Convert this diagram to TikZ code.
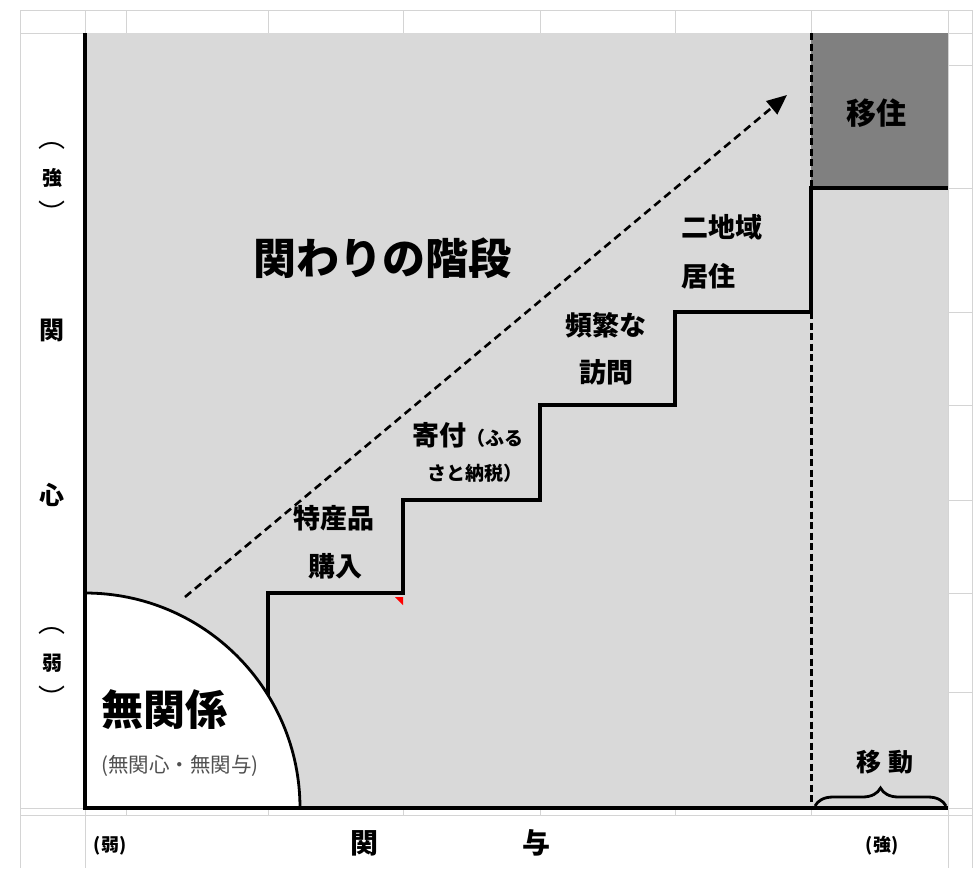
\documentclass[tikz,border=0pt]{standalone}
\usepackage{fontspec}
\setmainfont{Noto Sans CJK JP}
\usetikzlibrary{arrows.meta,decorations.pathreplacing}
\definecolor{gridgray}{HTML}{D4D4D4}
\definecolor{lightfill}{HTML}{D9D9D9}
\definecolor{darkfill}{HTML}{808080}
\definecolor{subgray}{HTML}{505050}
\tikzset{
  gridline/.style={draw=gridgray, line width=1pt},
  axisline/.style={draw=black, line width=4pt},
  stairline/.style={draw=black, line width=3.8pt, line join=miter},
  dashline/.style={draw=black, line width=3pt, dash pattern=on 7pt off 3.5pt},
  lbl/.style={inner sep=0pt, font=\bfseries\fontsize{27}{27}\selectfont},
  axlbl/.style={inner sep=0pt, font=\bfseries\fontsize{25}{25}\selectfont},
  smlbl/.style={inner sep=0pt, font=\bfseries\fontsize{18}{18}\selectfont},
  sidelbl/.style={inner sep=0pt, font=\bfseries\fontsize{20}{20}\selectfont},
  parlbl/.style={inner sep=0pt, font=\fontsize{27}{27}\selectfont},
}
\begin{document}
\begin{tikzpicture}[x=1pt,y=-1pt]
\useasboundingbox (0,0) rectangle (980,868);
\fill[white] (0,0) rectangle (980,868);
% spreadsheet grid
\draw[gridline] (20,10) -- (972,10);
\draw[gridline] (20,33) -- (972,33);
\draw[gridline] (20,808) -- (972,808);
\draw[gridline] (20,815) -- (972,815);
\draw[gridline] (20,10) -- (20,868);
\draw[gridline] (85,10) -- (85,868);
\draw[gridline] (948,10) -- (948,868);
\draw[gridline] (972,10) -- (972,868);
\foreach \gx in {126,268,403,540,675,811} {
  \draw[gridline] (\gx,10) -- (\gx,33);
  \draw[gridline] (\gx,808) -- (\gx,815);
}
\foreach \gy in {65,188,312,405,500,593,692} {
  \draw[gridline] (948,\gy) -- (972,\gy);
}
% fills
\fill[lightfill] (85,33) rectangle (948,808);
\fill[darkfill] (811,33) rectangle (948,188);
% staircase
\coordinate (s0) at (268,700);
\coordinate (s1) at (268,593);
\coordinate (s2) at (403,593);
\coordinate (s3) at (403,500);
\coordinate (s4) at (540,500);
\coordinate (s5) at (540,405);
\coordinate (s6) at (675,405);
\coordinate (s7) at (675,312);
\coordinate (s8) at (811,312);
\coordinate (s9) at (811,188);
\coordinate (s10) at (948,188);
\draw[stairline] (s0) -- (s1) -- (s2) -- (s3) -- (s4) -- (s5) -- (s6) -- (s7) -- (s8) -- (s9) -- (s10);
% red marker
\fill[red] (395,597) -- (403,597) -- (403,605) -- cycle;
% dashed vertical
\coordinate (d0) at (811,33);
\coordinate (d1) at (811,808);
\draw[dashline] (d0) -- (s9);
\draw[dashline] (s8) -- (d1);
% quarter circle
\coordinate (o) at (85,808);
\fill[white] (o) -- (300,808) arc[start angle=0, end angle=-90, radius=215] -- cycle;
\draw[line width=2.8pt] (300,808) arc[start angle=0, end angle=-90, radius=215];
% axes
\coordinate (ax0) at (85,33);
\coordinate (ax1) at (948,808);
\draw[axisline] (ax0) -- (o) -- (ax1);
% dashed arrow
\coordinate (a0) at (185,597);
\coordinate (a1) at (787,95);
\draw[black, line width=2.6pt, dash pattern=on 8pt off 5pt, -{Triangle[length=20pt,width=17pt]}] (a0) -- (a1);
% brace
\coordinate (b0) at (815,806);
\coordinate (b1) at (946,806);
\draw[decorate, decoration={brace, amplitude=18pt}, line width=2.8pt] (b0) -- (b1);
% texts
\node[inner sep=0pt, font=\bfseries\fontsize{43}{43}\selectfont] (title) at (382,258) {関わりの階段};
\node[lbl, anchor=west] (t5a) at (681,227) {二地域};
\node[lbl, anchor=west] (t5b) at (681,276) {居住};
\node[lbl] (t4a) at (606,325) {頻繁な};
\node[lbl] (t4b) at (606,372) {訪問};
\node[lbl, anchor=west] (t3a) at (412,435) {寄付\fontsize{19}{19}\selectfont（ふる};
\node[inner sep=0pt, anchor=west, font=\bfseries\fontsize{19}{19}\selectfont] (t3b) at (427,473) {さと納税）};
\node[lbl] (t2a) at (334,518) {特産品};
\node[lbl] (t2b) at (335,566) {購入};
\node[inner sep=0pt, anchor=west, font=\bfseries\fontsize{42}{42}\selectfont] (none) at (101,710) {無関係};
\node[inner sep=0pt, anchor=west, text=subgray, font=\fontsize{20.5}{20.5}\selectfont] (nonesub) at (101,766) {(無関心・無関与)};
\node[inner sep=0pt, font=\bfseries\fontsize{30}{30}\selectfont] (iju) at (876,113) {移住};
\node[axlbl] (ido) at (885,762) {移\hspace{7pt}動};
% left axis
\node[parlbl] (lp1) at (52,146) {︵};
\node[sidelbl] (lstrong) at (52,178) {強};
\node[parlbl] (lp2) at (52,212) {︶};
\node[axlbl] (lk) at (52,330) {関};
\node[axlbl] (lsh) at (52,495) {心};
\node[parlbl] (lp3) at (52,631) {︵};
\node[sidelbl] (lweak) at (52,663) {弱};
\node[parlbl] (lp4) at (52,697) {︶};
% bottom axis
\node[smlbl] (bweak) at (110,846) {(弱)};
\node[inner sep=0pt, font=\bfseries\fontsize{28}{28}\selectfont] (bk) at (364,843) {関};
\node[inner sep=0pt, font=\bfseries\fontsize{28}{28}\selectfont] (by) at (536,843) {与};
\node[smlbl] (bstrong) at (882,846) {(強)};
\end{tikzpicture}
\end{document}
